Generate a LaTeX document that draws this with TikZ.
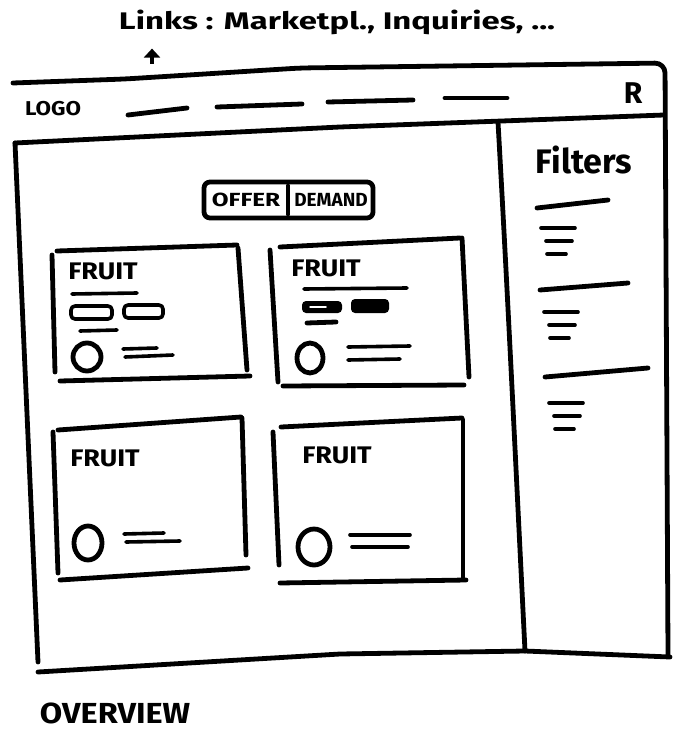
\documentclass[tikz,border=0pt]{standalone}
\usepackage{fontspec}
\setmainfont{Fira Sans}
\usepackage{tikz}
\usetikzlibrary{arrows.meta, positioning}

\begin{document}
\begin{tikzpicture}[
    x=1pt, y=-1pt,
    pen/.style={line width=4.8pt, line cap=round, line join=round},
    scribble/.style={line width=3.6pt, line cap=round, line join=round},
    hand/.style={inner sep=0pt, font=\bfseries\fontsize{#1}{#1}\selectfont},
    hand/.default=20,
    arrow/.style={-{Triangle[length=9pt, width=16pt]}, line width=4pt}
]
\fill[white] (0,0) rectangle (675,738);
\useasboundingbox (0,0) rectangle (675,738);

% Notes
\node[hand=24] (links) at (337,22) {\scalebox{1.37}[1]{Links : Marketpl., Inquiries, ...}};
\coordinate (linkstail) at (152,64);
\draw[arrow, shorten >=14pt] (linkstail) -- (linkstail |- links.south);
\node[hand=29] (overview) at (115,713) {\scalebox{1.12}[1]{OVERVIEW}};

% Window frame
\draw[pen, rounded corners=10pt] (13,83) -- (125,79) -- (300,68) -- (665,63) -- (668,655);
\draw[pen] (15,143) -- (340,127) -- (664,115);
\draw[pen] (15,143) -- (38,662);
\draw[pen] (38,672) -- (340,654) -- (525,651) -- (670,657);
\draw[pen] (498,122) .. controls (508,300) and (515,450) .. (525,651);

% Header
\node[hand=20] (logo) at (53,109) {\scalebox{1.12}[1]{LOGO}};
\foreach \xa/\ya/\xb/\yb in {128/115/187/108, 217/107/302/104, 328/102/413/100, 445/98/507/98}
    \draw[pen] (\xa,\ya) -- (\xb,\yb);
\node[hand=30] (profile) at (633,93) {R};

% Sidebar
\node[hand=34] (filters) at (584,160) {Filters};
\foreach \xa/\ya/\xb/\yb/\s in {537/208/608/200/228, 540/290/628/283/312, 545/377/648/368/403} {
    \draw[pen] (\xa,\ya) -- (\xb,\yb);
    \draw[scribble] (\xa+4,\s) -- (\xa+38,\s);
    \draw[scribble] (\xa+9,\s+13) -- (\xa+35,\s+13);
    \draw[scribble] (\xa+10,\s+26) -- (\xa+29,\s+26);
}

% Toggle
\draw[pen, rounded corners=6pt] (204,182) rectangle (373,218);
\draw[pen] (288,186) -- (288,214);
\node[hand=19] (offer) at (246,200) {\scalebox{1.28}[1]{OFFER}};
\node[hand=19] (demand) at (331,200) {DEMAND};

% Card 1
\draw[pen] (57,251) -- (237,245);
\draw[pen] (52,255) -- (55,372);
\draw[pen] (238,248) -- (247,370);
\draw[pen] (60,381) -- (250,376);
\node[hand=24] (fruita) at (103,271) {\scalebox{1.12}[1]{FRUIT}};
\draw[scribble] (72,294) -- (137,293);
\draw[scribble, rounded corners=4pt] (71,306) rectangle (112,319);
\draw[scribble, rounded corners=4pt] (124,305) rectangle (163,318);
\draw[scribble] (80,331) -- (117,330);
\draw[pen] (87,357) ellipse [x radius=14pt, y radius=14pt];
\draw[scribble] (123,349) -- (157,348);
\draw[scribble] (125,357) -- (173,355);

% Card 2
\draw[pen] (280,247) -- (460,238);
\draw[pen] (270,250) -- (278,382);
\draw[pen] (462,238) -- (469,377);
\draw[pen] (283,386) -- (464,385);
\node[hand=24] (fruitb) at (326,268) {\scalebox{1.12}[1]{FRUIT}};
\draw[scribble] (304,289) -- (407,288);
\fill[rounded corners=4pt] (302,301) rectangle (342,313);
\fill[rounded corners=4pt] (351,299) rectangle (389,313);
\draw[white, line width=1.5pt, line cap=round] (310,307) -- (326,307);
\draw[pen] (307,323) -- (336,322);
\draw[pen] (310,358) ellipse [x radius=13pt, y radius=15pt];
\draw[scribble] (348,347) -- (410,346);
\draw[scribble] (348,360) -- (400,359);

% Card 3
\draw[pen] (58,430) -- (241,417);
\draw[pen] (53,432) -- (58,573);
\draw[pen] (242,418) -- (246,555);
\draw[pen] (60,580) -- (248,568);
\node[hand=24] (fruitc) at (105,458) {\scalebox{1.12}[1]{FRUIT}};
\draw[pen] (88,543) ellipse [x radius=14pt, y radius=17pt];
\draw[scribble] (124,534) -- (164,533);
\draw[scribble] (126,542) -- (180,541);

% Card 4
\draw[pen] (281,427) -- (462,418);
\draw[pen] (273,432) -- (279,565);
\draw[pen] (463,420) -- (463,577);
\draw[pen] (280,583) -- (466,580);
\node[hand=24] (fruitd) at (337,455) {\scalebox{1.12}[1]{FRUIT}};
\draw[pen] (314,547) ellipse [x radius=16pt, y radius=18pt];
\draw[scribble] (350,535) -- (410,535);
\draw[scribble] (352,547) -- (408,547);

\end{tikzpicture}
\end{document}
